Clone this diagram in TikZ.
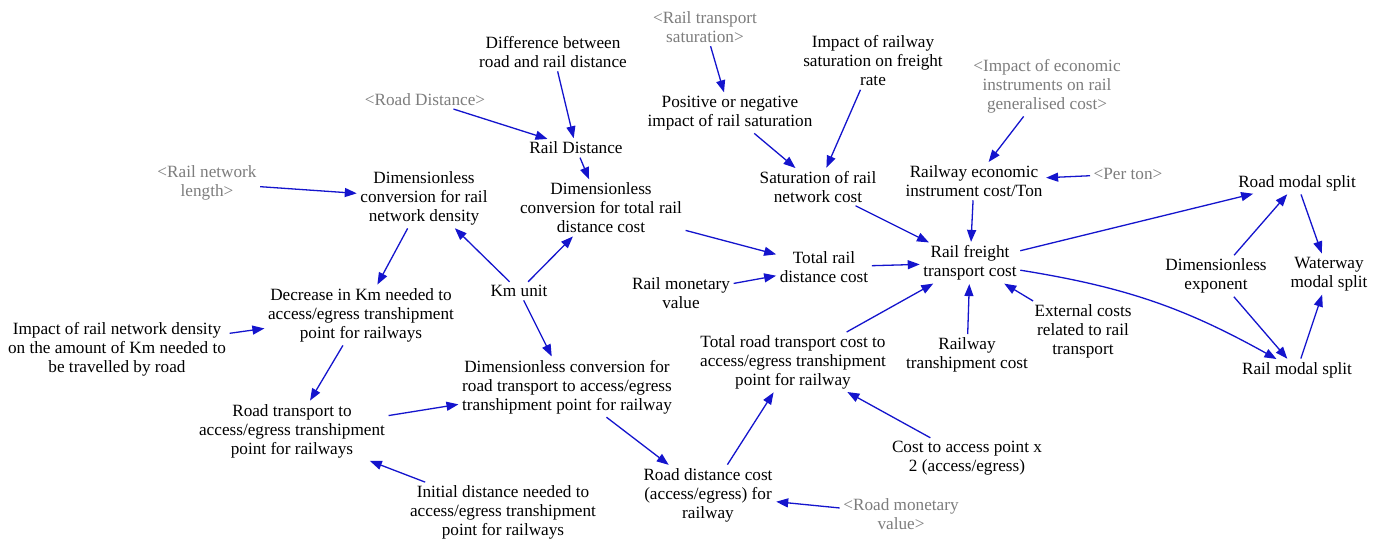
\documentclass[tikz,border=0pt]{standalone}
\usepackage{fontspec}
\setmainfont{Liberation Serif}
\usetikzlibrary{arrows.meta}
\definecolor{arrowblue}{RGB}{20,20,205}
\definecolor{shadowtxt}{RGB}{125,125,125}
\tikzset{
  var/.style={align=center, inner sep=2.5pt, font=\fontsize{17.2}{19}\selectfont, text=black},
  shadow/.style={var, text=shadowtxt},
  arr/.style={-{Triangle[length=12pt,width=9pt]}, draw=arrowblue, line width=1.3pt, shorten >=1pt, shorten <=1pt}
}
\begin{document}
\begin{tikzpicture}[x=1pt,y=-1pt]
\fill[white] (0,0) rectangle (1383,541);
\useasboundingbox (0,0) rectangle (1383,541);

\node[shadow] (rts) at (705,27) {<Rail transport\\saturation>};
\node[var] (diff) at (553,52) {Difference between\\road and rail distance};
\node[shadow] (rdist) at (425,100) {<Road Distance>};
\node[var] (raild) at (576,148) {Rail Distance};
\node[var] (dtrc) at (601,208) {Dimensionless\\conversion for total rail\\distance cost};
\node[var] (posneg) at (730,113) {Positive or negative\\impact of rail saturation};
\node[var] (irsf) at (873,61) {Impact of railway\\saturation on freight\\rate};
\node[var] (satc) at (818,187) {Saturation of rail\\network cost};
\node[shadow] (iei) at (1047,86) {<Impact of economic\\instruments on rail\\generalised cost>};
\node[var] (reic) at (974,181) {Railway economic\\instrument cost/Ton};
\node[shadow] (perton) at (1128,174) {<Per ton>};
\node[var] (rftc) at (970,263) {Rail freight\\transport cost};
\node[var] (roadms) at (1297,183) {Road modal split};
\node[var] (dexp) at (1216,276) {Dimensionless\\exponent};
\node[var] (wms) at (1329,274) {Waterway\\modal split};
\node[var] (railms) at (1297,370) {Rail modal split};
\node[var] (ext) at (1083,331) {External costs\\related to rail\\transport};
\node[var] (rtc) at (967,355) {Railway\\transhipment cost};
\node[var] (trdc) at (824,267) {Total rail\\distance cost};
\node[var] (rmv) at (681,293) {Rail monetary\\value};
\node[var] (km) at (519,291) {Km unit};
\node[var] (dcrt) at (567,387) {Dimensionless conversion for\\road transport to access/egress\\transhipment point for railway};
\node[var] (trtc) at (793,362) {Total road transport cost to\\access/egress transhipment\\point for railway};
\node[var] (rdc) at (708,495) {Road distance cost\\(access/egress) for\\railway};
\node[var] (cta) at (967,458) {Cost to access point x\\2 (access/egress)};
\node[shadow] (rmon) at (901,514) {<Road monetary\\value>};
\node[var] (init) at (503,512) {Initial distance needed to\\access/egress transhipment\\point for railways};
\node[var] (rtat) at (292,431) {Road transport to\\access/egress transhipment\\point for railways};
\node[var] (ird) at (117,349) {Impact of rail network density\\on the amount of Km needed to\\be travelled by road};
\node[var] (dec) at (361,315) {Decrease in Km needed to\\access/egress transhipment\\point for railways};
\node[var] (dcrnd) at (424,198) {Dimensionless\\conversion for rail\\network density};
\node[shadow] (rnl) at (207,183) {<Rail network\\length>};

\draw[arr] (rts) -- (posneg);
\draw[arr] (diff) -- (raild);
\draw[arr] (rdist) -- (raild);
\draw[arr] (raild) -- (dtrc);
\draw[arr] (dtrc) -- (trdc);
\draw[arr] (km) -- (dtrc);
\draw[arr] (km) -- (dcrnd);
\draw[arr] (km) -- (dcrt);
\draw[arr] (rnl) -- (dcrnd);
\draw[arr] (dcrnd) -- (dec);
\draw[arr] (ird) -- (dec);
\draw[arr] (dec) -- (rtat);
\draw[arr] (rtat) -- (dcrt);
\draw[arr] (init) -- (rtat);
\draw[arr] (dcrt) -- (rdc);
\draw[arr] (rmon) -- (rdc);
\draw[arr] (rdc) -- (trtc);
\draw[arr] (cta) -- (trtc);
\draw[arr] (trtc) -- (rftc);
\draw[arr] (rmv) -- (trdc);
\draw[arr] (trdc) -- (rftc);
\draw[arr] (posneg) -- (satc);
\draw[arr] (irsf) -- (satc);
\draw[arr] (satc) -- (rftc);
\draw[arr] (iei) -- (reic);
\draw[arr] (perton) -- (reic);
\draw[arr] (reic) -- (rftc);
\draw[arr] (rtc) -- (rftc);
\draw[arr] (ext) -- (rftc);
\draw[arr] (rftc) -- (roadms);
\draw[arr] (rftc) to[bend left=10] (railms);
\draw[arr] (dexp) -- (roadms);
\draw[arr] (dexp) -- (railms);
\draw[arr] (roadms) -- (wms);
\draw[arr] (railms) -- (wms);
\end{tikzpicture}
\end{document}
